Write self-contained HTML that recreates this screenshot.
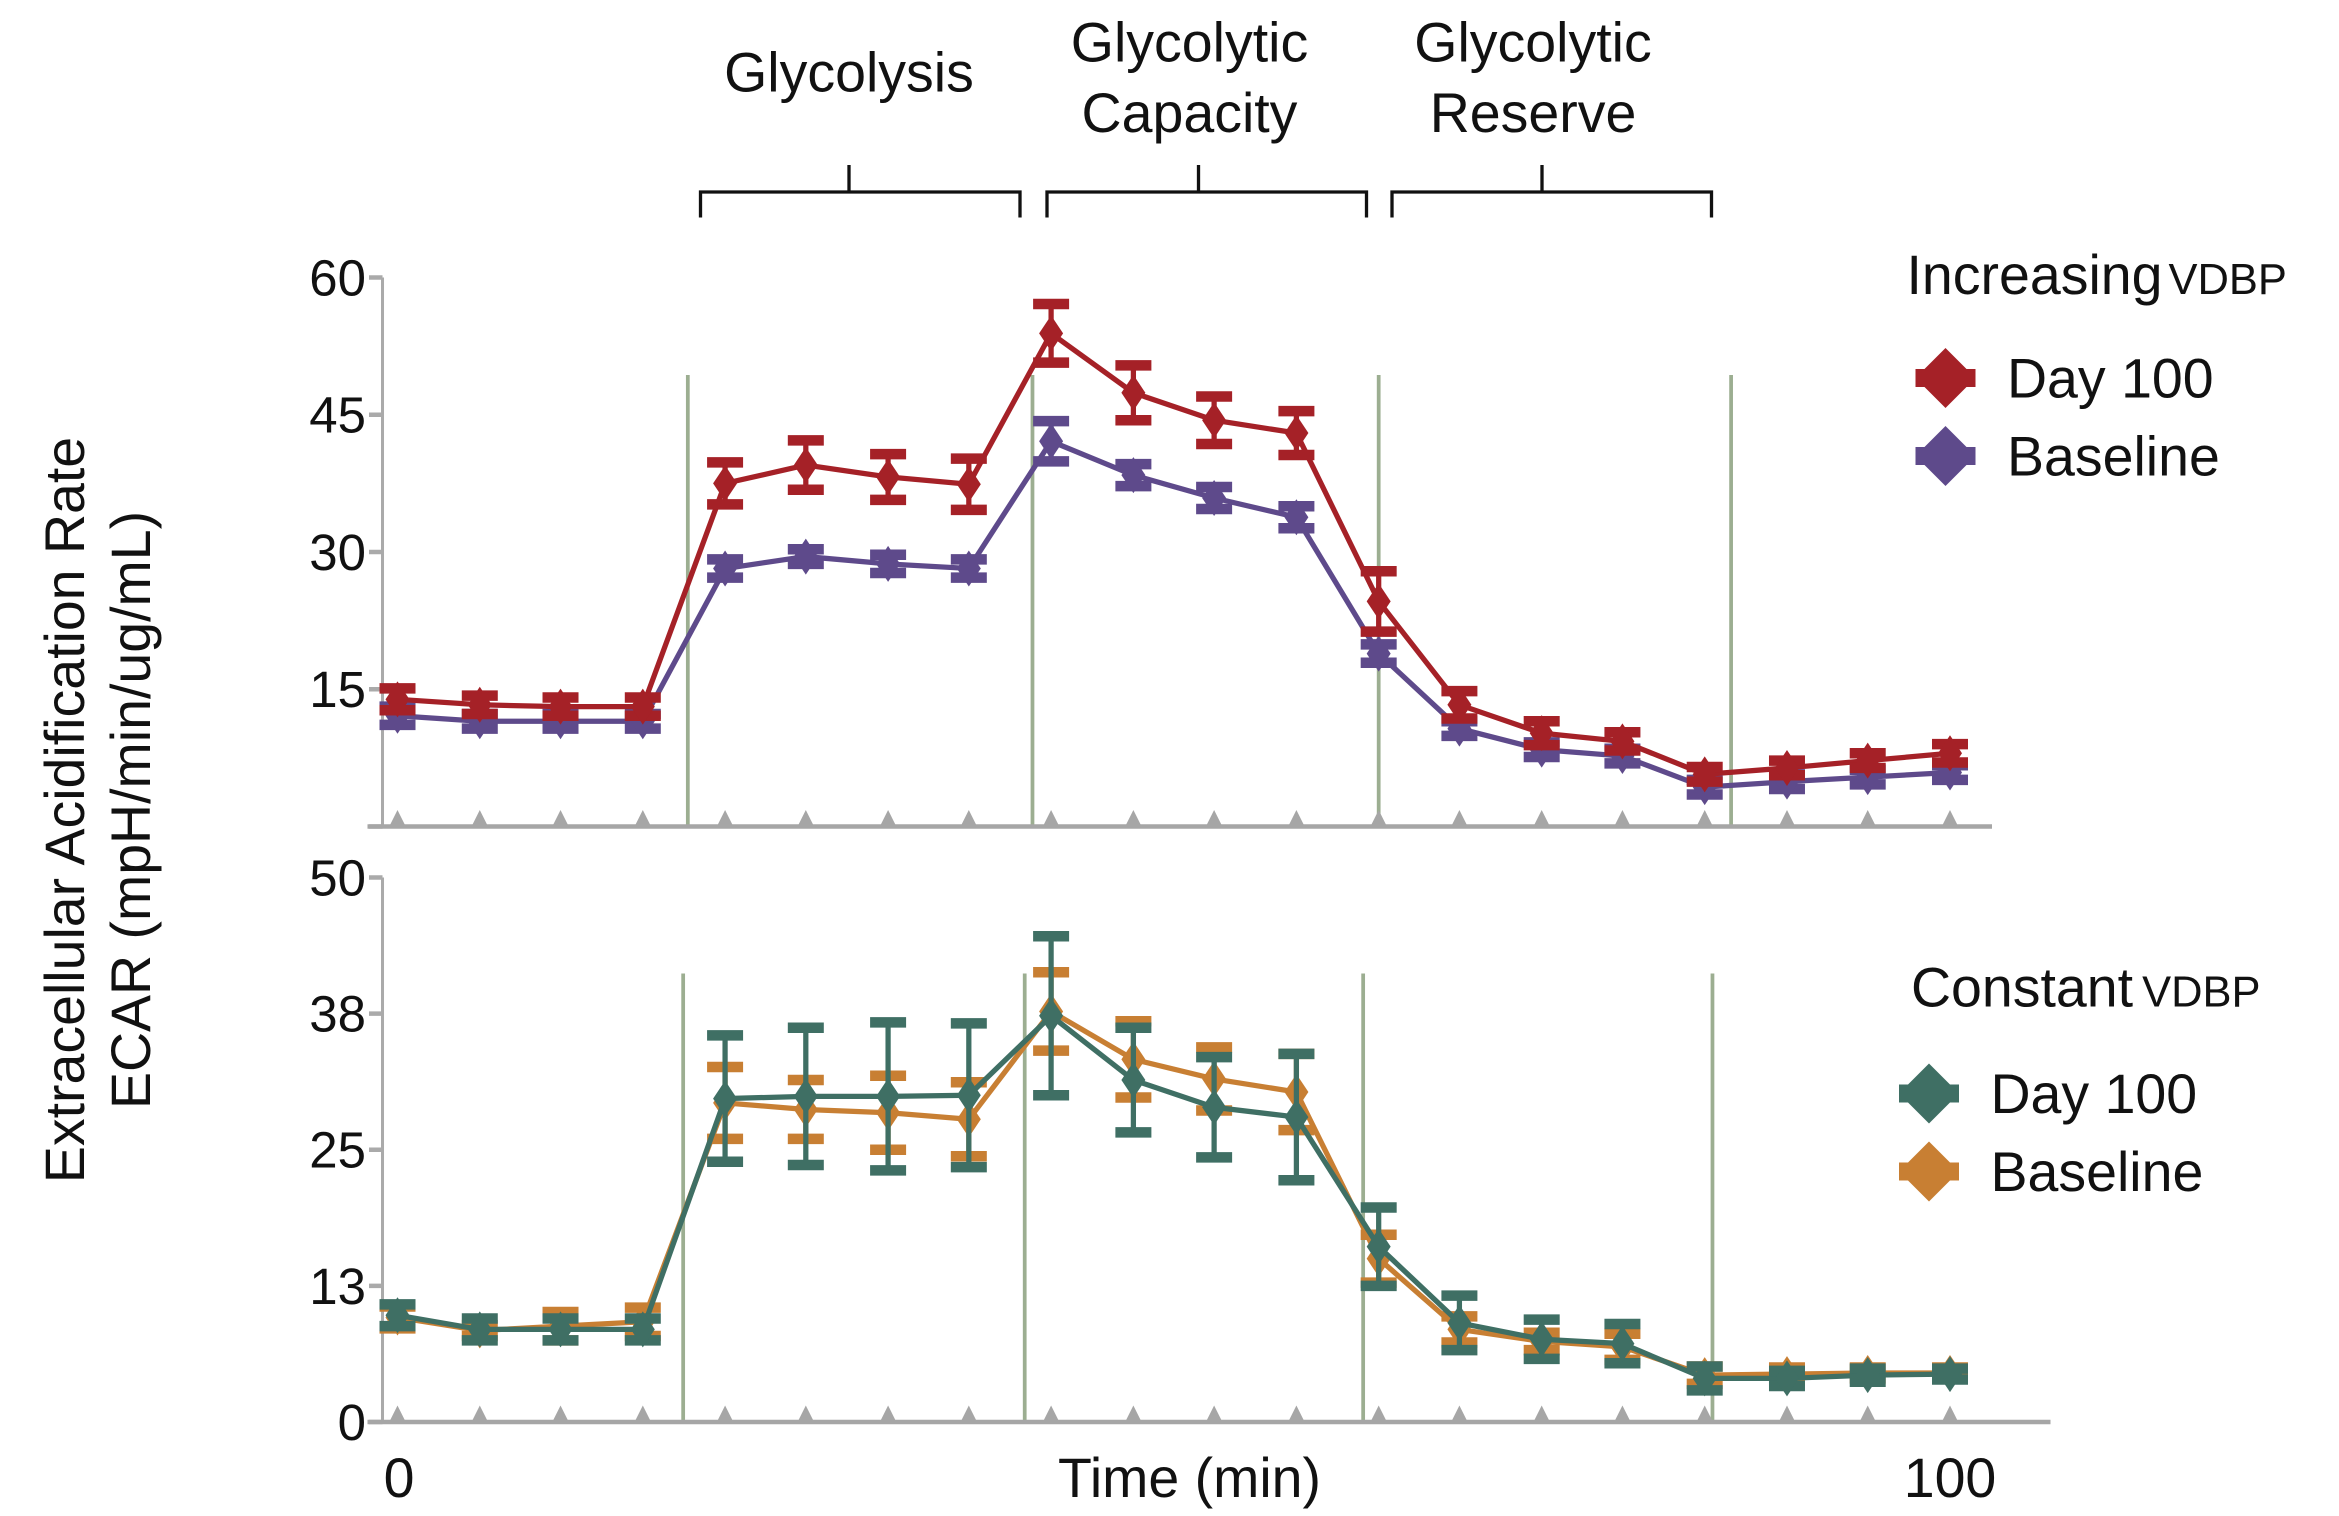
<!DOCTYPE html>
<html><head><meta charset="utf-8"><style>
html,body{margin:0;padding:0;background:#fff}
svg{display:block}
text{font-family:"Liberation Sans",Arial,sans-serif;fill:#111}
</style></head><body>
<svg id="chart" width="2339" height="1516" viewBox="0 0 1559.33 1010.67" xmlns="http://www.w3.org/2000/svg">
<g stroke="#111" stroke-width="2.2" fill="none">
<path d="M467,145 V128 H680 V145 M566,128 V110"/>
<path d="M698,145 V128 H911 V145 M799,128 V110"/>
<path d="M928,145 V128 H1141 V145 M1028,128 V110"/>
</g>
<text x="566" y="61" font-size="37" text-anchor="middle">Glycolysis</text>
<text x="793" y="41" font-size="37" text-anchor="middle"><tspan x="793">Glycolytic</tspan><tspan x="793" dy="47">Capacity</tspan></text>
<text x="1022" y="41" font-size="37" text-anchor="middle"><tspan x="1022">Glycolytic</tspan><tspan x="1022" dy="47">Reserve</tspan></text>
<text transform="translate(56,540) rotate(-90)" font-size="37" text-anchor="middle">Extracellular Acidification Rate</text>
<text transform="translate(100,540) rotate(-90)" font-size="37" text-anchor="middle">ECAR (mpH/min/ug/mL)</text>
<text x="266" y="998" font-size="37" text-anchor="middle">0</text>
<text x="793" y="998" font-size="37" text-anchor="middle">Time (min)</text>
<text x="1300" y="998" font-size="37" text-anchor="middle">100</text>
<g>
<text x="1271" y="196" font-size="37">Increasing<tspan font-size="29" dx="4">VDBP</tspan></text>
</g>
<g>
<text x="1274" y="671" font-size="37">Constant<tspan font-size="29" dx="6">VDBP</tspan></text>
</g>
<g id="plots"></g>
</svg>
<script>
const times = [0,5.3,10.5,15.8,21.1,26.3,31.6,36.8,42.1,47.4,52.6,57.9,63.2,68.4,73.7,78.9,84.2,89.5,94.7,100];
const topDay100 = [13.9,13.3,13.1,13.1,37.5,39.5,38.2,37.4,53.9,47.4,44.4,43.0,24.6,13.3,10.2,9.3,5.7,6.4,7.2,8.0];
const topDay100Err = [1.2,1.0,1.0,1.0,2.3,2.7,2.5,2.8,3.2,3.0,2.6,2.4,3.3,1.5,1.3,1.0,0.8,0.8,0.8,1.0];
const topBaseline = [12.1,11.5,11.5,11.5,28.2,29.5,28.7,28.2,42.1,38.4,35.9,33.8,18.9,10.7,8.4,7.7,4.3,4.9,5.4,5.9];
const topBaselineErr = [1.0,0.8,0.8,0.8,1.0,0.8,1.0,1.0,2.2,1.2,1.2,1.2,1.0,0.8,0.8,0.8,0.8,0.8,0.8,0.8];
const botDay100 = [9.8,8.5,8.5,8.5,29.7,29.9,29.9,30.0,37.3,31.4,28.9,28.0,16.1,9.1,7.6,7.2,4.0,4.0,4.3,4.4];
const botDay100Err = [1.0,1.0,1.0,1.0,5.8,6.3,6.8,6.6,7.3,4.8,4.6,5.8,3.6,2.5,1.8,1.8,1.1,0.7,0.6,0.5];
const botBaseline = [9.6,8.4,8.8,9.2,29.3,28.7,28.4,27.8,37.7,33.3,31.5,30.3,15.0,8.5,7.4,6.9,4.3,4.4,4.5,4.5];
const botBaselineErr = [1.0,0.5,1.3,1.3,3.3,2.7,3.4,3.4,3.6,3.5,2.9,3.5,2.2,1.2,0.8,1.2,0.8,0.6,0.5,0.5];
const topTicks = [0,15,30,45,60];
const topTickLabels = ["","15","30","45","60"];
const botTicks = [0,12.5,25,37.5,50];
const botTickLabels = ["0","13","25","38","50"];
const injectionTimesTop = [18.7,40.9,63.2,85.9];
const injectionTimesBot = [18.4,40.4,62.2,84.7];

const NS = "http://www.w3.org/2000/svg";
const root = document.getElementById("plots");
const xS = t => 265 + t * 10.35;
function mk(tag, attrs, parent) {
  const e = document.createElementNS(NS, tag);
  for (const k in attrs) e.setAttribute(k, attrs[k]);
  parent.appendChild(e);
  return e;
}
function panel(name, y0px, y1px, vmax, ticks, tickLabels, injections, series, axisEnd, injTop) {
  const yS = v => y0px - (v / vmax) * (y0px - y1px);
  const g = mk("g", {}, root);
  
  
  const ax = mk("line", {x1:255, x2:255, y1:yS(vmax), y2:y0px, stroke:"#aaa", "stroke-width":2}, g);
  
  
  ticks.forEach((v, i) => {
    mk("line", {x1:246, x2:255, y1:yS(v), y2:yS(v), stroke:"#aaa", "stroke-width":3}, g);
    if (tickLabels[i]) {
      const t = mk("text", {x:244, y:yS(v)+12, "font-size":34, "text-anchor":"end"}, g);
      t.textContent = tickLabels[i];
      
      
    }
  });
  injections.forEach(t => {
    const l = mk("line", {x1:xS(t), x2:xS(t), y1:injTop, y2:y0px, stroke:"#9cae91", "stroke-width":2.5}, g);
    
    
  });
  const xa = mk("line", {x1:245, x2:axisEnd, y1:y0px, y2:y0px, stroke:"#a6a6a6", "stroke-width":3}, g);
  
  
  times.forEach(t => {
    const tr = mk("path", {d:`M${xS(t)-5},${y0px-1} L${xS(t)},${y0px-11} L${xS(t)+5},${y0px-1}Z`, fill:"#a6a6a6"}, g);
    
    
  });
  series.forEach(s => {
    const sg = mk("g", {}, g);
    
    
    const d = s.vals.map((v,i) => (i?"L":"M") + xS(times[i]) + "," + yS(v)).join(" ");
    const p = mk("path", {d, fill:"none", stroke:s.color, "stroke-width":3.5}, sg);
    
    
    s.vals.forEach((v,i) => {
      const x = xS(times[i]), yt = yS(v + s.err[i]), yb = yS(v - s.err[i]);
      const e = mk("path", {d:`M${x},${yt} V${yb}`, stroke:s.color, "stroke-width":3.5, fill:"none"}, sg);
      
      
      mk("path", {d:`M${x-12},${yt} H${x+12} M${x-12},${yb} H${x+12}`, stroke:s.color, "stroke-width":7}, sg);
      const y = yS(v);
      const m = mk("path", {d:`M${x},${y-12} L${x+8},${y} L${x},${y+12} L${x-8},${y}Z`, fill:s.color}, sg);
      
      
    });
  });
}
panel("top-panel", 551, 185, 60, topTicks, topTickLabels, injectionTimesTop, [
  {name:"top-baseline", color:"#5e4a8b", vals:topBaseline, err:topBaselineErr},
  {name:"top-day100", color:"#a52127", vals:topDay100, err:topDay100Err}
], 1328, 250);
panel("bottom-panel", 948, 585, 50, botTicks, botTickLabels, injectionTimesBot, [
  {name:"bottom-baseline", color:"#c87f33", vals:botBaseline, err:botBaselineErr},
  {name:"bottom-day100", color:"#3f6f64", vals:botDay100, err:botDay100Err}
], 1367, 649);

function legendEntry(x, y, color, label, name) {
  const g = mk("g", {}, root);
  
  
  mk("rect", {x:x-20, y:y-6, width:40, height:12, fill:color}, g);
  mk("path", {d:`M${x},${y-20} L${x+20},${y} L${x},${y+20} L${x-20},${y}Z`, fill:color}, g);
  const t = mk("text", {x:x+41, y:y+13, "font-size":37}, g);
  t.textContent = label;
}
legendEntry(1297, 252, "#a52127", "Day 100", "top-legend-day100");
legendEntry(1297, 304, "#5e4a8b", "Baseline", "top-legend-baseline");
legendEntry(1286, 729, "#3f6f64", "Day 100", "bottom-legend-day100");
legendEntry(1286, 781, "#c87f33", "Baseline", "bottom-legend-baseline");
</script>
</body></html>
